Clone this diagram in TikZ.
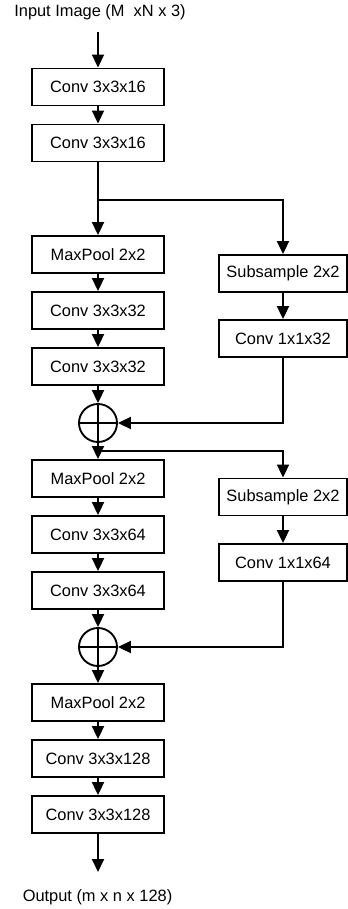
\documentclass[tikz,border=0pt]{standalone}
\usepackage{fontspec}
\setmainfont{Liberation Sans}
\usetikzlibrary{arrows.meta}
\begin{document}
\begin{tikzpicture}[x=0.75pt,y=-0.75pt,
  box/.style={draw,line width=1.4pt,rectangle,minimum width=99pt,minimum height=27.75pt,inner sep=0pt,font=\fontsize{12.3pt}{14pt}\selectfont},
  rbox/.style={box,minimum width=96pt},
  sumnode/.style={draw,line width=1.4pt,circle,minimum size=28.5pt,inner sep=0pt},
  lbl/.style={font=\fontsize{12.3pt}{14pt}\selectfont,inner sep=0pt},
  conn/.style={line width=1.4pt},
  arr/.style={conn,-{Triangle[length=9.75pt,width=9pt]}}]
\useasboundingbox (0,0) rectangle (348,909);
% labels
\node[lbl] (inp) at (100,12) {Input Image (M\ \ xN x 3)};
\node[lbl] (out) at (97.5,897) {Output (m x n x 128)};
\coordinate (a0) at (98,32);
\coordinate (a1) at (98,872);
% left column
\node[box] (b1) at (98,87) {Conv 3x3x16};
\node[box] (b2) at (98,143) {Conv 3x3x16};
\node[box] (mp1) at (98,254.5) {MaxPool 2x2};
\node[box] (c32a) at (98,310.5) {Conv 3x3x32};
\node[box] (c32b) at (98,366.5) {Conv 3x3x32};
\node[sumnode] (s1) at (98,423) {};
\node[box] (mp2) at (98,478.5) {MaxPool 2x2};
\node[box] (c64a) at (98,534.5) {Conv 3x3x64};
\node[box] (c64b) at (98,590.5) {Conv 3x3x64};
\node[sumnode] (s2) at (98,647) {};
\node[box] (mp3) at (98,702.5) {MaxPool 2x2};
\node[box] (c128a) at (98,758.5) {Conv 3x3x128};
\node[box] (c128b) at (98,814.5) {Conv 3x3x128};
% right column
\node[rbox] (ss1) at (283,273.5) {Subsample 2x2};
\node[rbox] (c1a) at (283,338.5) {Conv 1x1x32};
\node[rbox] (ss2) at (283,497) {Subsample 2x2};
\node[rbox] (c1b) at (283,562.5) {Conv 1x1x64};
% junctions
\coordinate (j1) at (98,200);
\coordinate (j2) at (98,451);
% crosses in sum nodes
\draw[conn] (s1.north) -- (s1.south) (s1.west) -- (s1.east);
\draw[conn] (s2.north) -- (s2.south) (s2.west) -- (s2.east);
% connectors
\draw[arr] (a0) -- (b1.north);
\draw[arr] (b1) -- (b2);
\draw[conn] (b2.south) -- (j1);
\draw[arr] (j1) -- (mp1.north);
\draw[arr] (j1) -| (ss1.north);
\draw[arr] (mp1) -- (c32a);
\draw[arr] (c32a) -- (c32b);
\draw[arr] (c32b) -- (s1.north);
\draw[arr] (ss1) -- (c1a);
\draw[arr] (c1a.south) |- (s1.east);
\draw[arr] (s1.south) -- (mp2.north);
\draw[arr] (j2) -| (ss2.north);
\draw[arr] (mp2) -- (c64a);
\draw[arr] (c64a) -- (c64b);
\draw[arr] (c64b) -- (s2.north);
\draw[arr] (ss2) -- (c1b);
\draw[arr] (c1b.south) |- (s2.east);
\draw[arr] (s2.south) -- (mp3.north);
\draw[arr] (mp3) -- (c128a);
\draw[arr] (c128a) -- (c128b);
\draw[arr] (c128b.south) -- (a1);
\end{tikzpicture}
\end{document}
